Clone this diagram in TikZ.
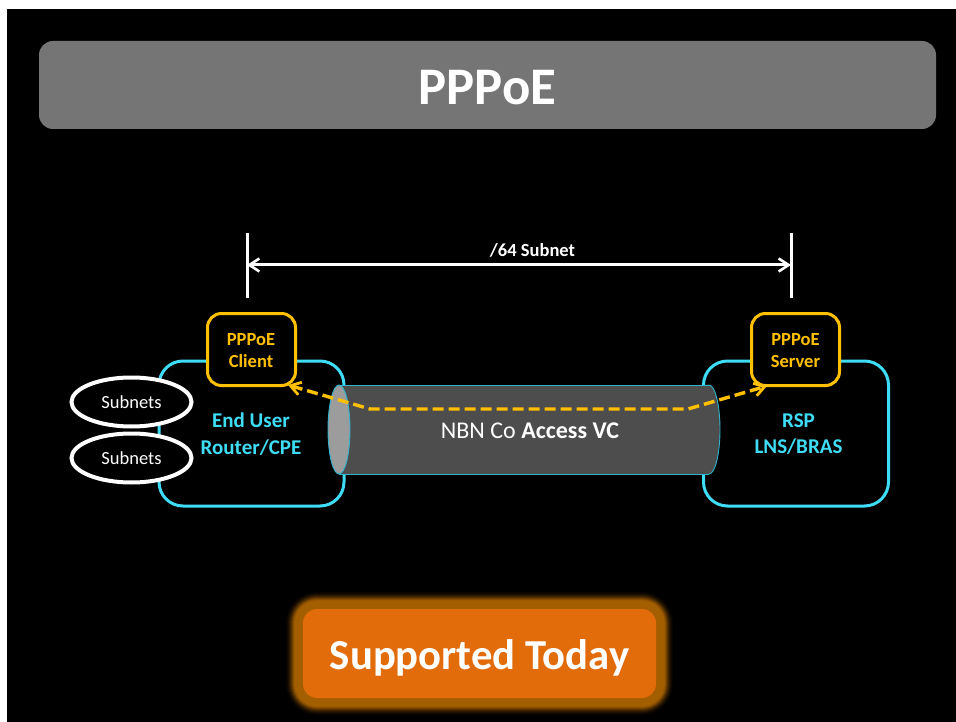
\documentclass[tikz,border=0pt]{standalone}
\usepackage{fontspec}
\setmainfont{Carlito}
\usetikzlibrary{arrows.meta,shapes.geometric}
\definecolor{bannergrey}{HTML}{757575}
\definecolor{cyanline}{HTML}{3FDCF5}
\definecolor{amberline}{HTML}{FFC000}
\definecolor{tubeline}{HTML}{2FB4CC}
\definecolor{tubebody}{HTML}{4D4D4D}
\definecolor{tubecap}{HTML}{9C9C9C}
\definecolor{orangefill}{HTML}{E36C0A}
\definecolor{glow}{HTML}{A35E00}
\tikzset{
  x=1pt,y=-1pt,
  banner/.style={fill=bannergrey,rounded corners=14pt,minimum width=897pt,minimum height=88pt,inner sep=0pt},
  bannertext/.style={text=white,inner sep=0pt,font=\fontsize{52.8}{56}\selectfont\bfseries},
  devicebox/.style={draw=cyanline,line width=3pt,rounded corners=24pt,minimum width=185pt,minimum height=145pt,inner sep=0pt},
  devicetext/.style={text=cyanline,align=center,inner sep=0pt,font=\fontsize{21}{26.5}\selectfont\bfseries},
  rolebox/.style={draw=amberline,line width=3pt,fill=black,rounded corners=14pt,minimum width=88pt,minimum height=72pt,inner sep=0pt},
  roletext/.style={text=amberline,align=center,inner sep=0pt,font=\fontsize{18.5}{22}\selectfont\bfseries},
  subnet/.style={ellipse,draw=white,line width=4pt,fill=black,minimum width=120pt,minimum height=49pt,inner sep=0pt,text=white,font=\fontsize{18.5}{20}\selectfont},
  tubeedge/.style={draw=tubeline,line width=0.9pt},
  tubeend/.style={ellipse,tubeedge,minimum width=22pt,minimum height=89pt,inner sep=0pt},
  span/.style={draw=white,line width=3pt},
  pipe/.style={draw=amberline,line width=3.4pt,dash pattern=on 11pt off 5pt,line join=round,{Straight Barb[length=10pt,width=13pt,line width=2.8pt]}-{Straight Barb[length=10pt,width=13pt,line width=2.8pt]}},
}
\begin{document}
\begin{tikzpicture}
\useasboundingbox (0,0) rectangle (956,722);
\fill[white] (0,0) rectangle (956,722);
\fill[black] (7,9) rectangle (956,722);
% title
\node[banner] (title) at (487.5,85) {};
\node[bannertext] (titletext) at (487.5,88) {PPPoE};
% device boxes
\node[devicebox] (cpe) at (251.5,433.5) {};
\node[devicebox] (rsp) at (796,433.5) {};
\node[devicetext] (cpetext) at (251,434) {End User\\Router/CPE};
\node[devicetext] (rsptext) at (798.5,434) {RSP\\LNS/BRAS};
% tube
\node[tubeend,fill=tubebody] (tubeR) at (709,429.5) {};
\fill[tubebody] (339,385) rectangle (709,474);
\draw[tubeedge] (339,385) -- (709,385) (339,474) -- (709,474);
\node[tubeend,fill=tubecap] (tubeL) at (339,429.5) {};
\node[text=white,inner sep=0pt,font=\fontsize{24}{26}\selectfont] (tubetext) at (530,431) {NBN Co \textbf{Access VC}};
% role boxes
\node[rolebox] (client) at (251.5,349.5) {};
\node[rolebox] (server) at (795.5,349.5) {};
\node[roletext] (clienttext) at (251,350.5) {PPPoE\\Client};
\node[roletext] (servertext) at (795.5,350.5) {PPPoE\\Server};
% subnets
\node[subnet] (subnetA) at (131.5,402) {Subnets};
\node[subnet] (subnetB) at (131.5,458) {Subnets};
% span
\coordinate (spanLtop) at (247,233);
\coordinate (spanLbot) at (247,298);
\coordinate (spanRtop) at (791,233);
\coordinate (spanRbot) at (791,298);
\coordinate (spanL) at (247,265);
\coordinate (spanR) at (791,265);
\draw[span] (spanLtop) -- (spanLbot);
\draw[span] (spanRtop) -- (spanRbot);
\draw[span,{Straight Barb[length=10pt,width=13pt,line width=2.6pt]}-{Straight Barb[length=10pt,width=13pt,line width=2.6pt]}] (spanL) -- (spanR);
\node[text=white,inner sep=0pt,font=\fontsize{18.5}{20}\selectfont\bfseries] (spantext) at (532.5,250) {/64 Subnet};
% dashed path
\coordinate (clientport) at (288,385);
\coordinate (serverport) at (767,386);
\coordinate (bendL) at (370,409);
\coordinate (bendR) at (688,409);
\draw[pipe] (clientport) -- (bendL) -- (bendR) -- (serverport);
% status
\foreach \g/\m in {17/4,16/9,15/16,14/26,13/38,12/52,11/68,10/84,9/96,8/100,7/100,6/100,5/100,4/100,3/100,2/100,1/100}{
  \fill[glow!\m!black,rounded corners={14pt+\g pt}] (303-\g,609-\g) rectangle (656+\g,698+\g);
}
\node[fill=orangefill,rounded corners=14pt,minimum width=353pt,minimum height=89pt,inner sep=0pt] (status) at (479.5,653.5) {};
\node[text=white,inner sep=0pt,font=\fontsize{42.7}{45}\selectfont\bfseries] (statustext) at (479.5,658) {Supported Today};
\end{tikzpicture}
\end{document}
